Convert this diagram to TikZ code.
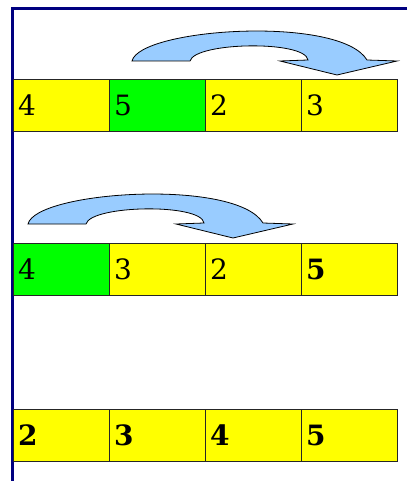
\documentclass[tikz,border=0pt]{standalone}
\usepackage{fontspec}
\setmainfont{DejaVu Serif}
\definecolor{navy}{RGB}{0,0,128}
\definecolor{skyfill}{RGB}{153,204,255}
\definecolor{grn}{RGB}{0,255,0}
\definecolor{yel}{RGB}{255,255,0}
\tikzset{
  cell/.style={draw=black!85, line width=1pt, rectangle, anchor=north west,
    minimum height=52pt, text width=86pt, inner sep=5pt, align=left,
    font=\fontsize{28}{28}\selectfont},
  swaparrow/.style={draw=black, line width=0.8pt, fill=skyfill}
}
\begin{document}
\begin{tikzpicture}[x=1pt,y=-1pt]
  \useasboundingbox (0,0) rectangle (407,481);
  \draw [navy, line width=3pt] (407,9) -- (12,9) -- (12,481);
  % the two bent arrows
  \foreach \dx/\dy in {0/0,-104/163}
    \draw [swaparrow, shift={(\dx,\dy)}] (132,61) .. controls (140,28) and (340,15) .. (367,60)
      -- (397,61) -- (337,75) -- (280,61) -- (308,60)
      .. controls (305,40) and (195,42) .. (190,61) -- cycle;
  % first row
  \node [cell, fill=yel] (a1) at (12.5,79) {4};
  \node [cell, fill=grn] (a2) at (108.5,79) {5};
  \node [cell, fill=yel] (a3) at (204.5,79) {2};
  \node [cell, fill=yel] (a4) at (300.5,79) {3};
  % second row
  \node [cell, fill=grn] (b1) at (12.5,243) {4};
  \node [cell, fill=yel] (b2) at (108.5,243) {3};
  \node [cell, fill=yel] (b3) at (204.5,243) {2};
  \node [cell, fill=yel] (b4) at (300.5,243) {\textbf{5}};
  % third row
  \node [cell, fill=yel] (c1) at (12.5,409) {\textbf{2}};
  \node [cell, fill=yel] (c2) at (108.5,409) {\textbf{3}};
  \node [cell, fill=yel] (c3) at (204.5,409) {\textbf{4}};
  \node [cell, fill=yel] (c4) at (300.5,409) {\textbf{5}};
\end{tikzpicture}
\end{document}
